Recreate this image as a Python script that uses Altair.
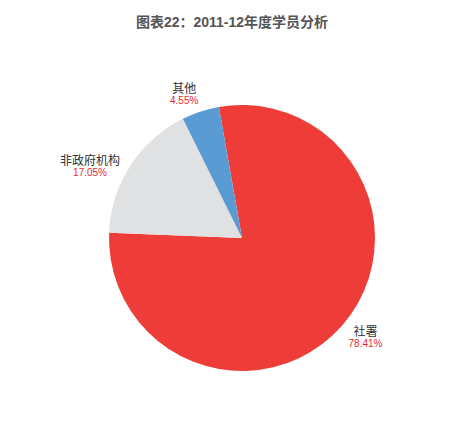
import math
import altair as alt
import pandas as pd

categories = ["社署", "非政府机构", "其他"]
values = [78.41, 17.05, 4.55]
colors = ["#EE3D38", "#E0E1E3", "#5A9BD4"]

df = pd.DataFrame({"cat": categories, "value": values, "idx": list(range(len(categories)))})

start = math.radians(-10)
theta_scale = alt.Scale(range=[start, start + 2 * math.pi])

base = alt.Chart(df).encode(
    theta=alt.Theta("value:Q", stack=True, scale=theta_scale),
    order=alt.Order("idx:Q"),
)

pie = base.mark_arc(outerRadius=133).encode(
    color=alt.Color("cat:N", scale=alt.Scale(domain=categories, range=colors), legend=None)
)

# label placement style per category: (radius, dx)
label_style = {"社署": (152, 9), "非政府机构": (131, -42), "其他": (150, -11)}

layers = [pie]
for cat, (r, dx) in label_style.items():
    # keep the full data for the stack, hide other labels via filter after stacking
    names = base.transform_calculate(
        show=f"datum.cat === '{cat}' ? datum.cat : ''"
    ).mark_text(radius=r, dx=dx, dy=-6, fontSize=12, font="Noto Sans CJK SC",
                color="#333333").encode(text="show:N")
    pcts = base.transform_calculate(
        show=f"datum.cat === '{cat}' ? format(datum.value, '.2f') + '%' : ''"
    ).mark_text(radius=r, dx=dx, dy=6, fontSize=10, font="Liberation Sans",
                color="#E8262D").encode(text="show:N")
    layers += [names, pcts]

chart = alt.layer(*layers).properties(
    width=428,
    height=388,
    autosize=alt.AutoSizeParams(type="none"),
    padding={"left": 20, "top": 36, "right": 0, "bottom": 0},
    title=alt.TitleParams(
        "图表22：2011-12年度学员分析",
        fontSize=14,
        fontWeight="bold",
        font="Liberation Sans, Noto Sans CJK SC",
        color="#555555",
        anchor="middle",
        dx=-10,
        offset=14,
    ),
).configure_view(stroke=None)

chart.save("out.html", embed_options={"renderer": "svg", "actions": False})
